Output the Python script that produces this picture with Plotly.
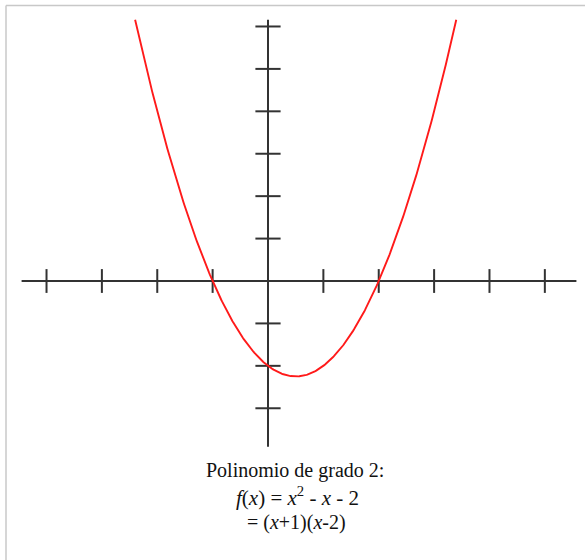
import numpy as np
import plotly.graph_objects as go

# f(x) = x^2 - x - 2, coefficients highest power first
coeffs = [1, -1, -2]
x_ticks = [-4, -3, -2, -1, 1, 2, 3, 4, 5]
y_ticks = [-3, -2, -1, 1, 2, 3, 4, 5, 6]
x_extent = [-4.45, 5.57]   # horizontal axis span
y_extent = [-3.91, 6.16]   # vertical axis span
caption_lines = [
    "Polinomio de grado 2:",
    "<i>f</i>(<i>x</i>) = <i>x</i><sup>2</sup> - <i>x</i> - 2",
    "= (<i>x</i>+1)(<i>x</i>-2)",
]
caption_pos = [(295, 470), (297, 496), (296, 522)]  # centre of each line, px
caption_size = [20, 21, 20]

W, H = 585, 560
ox, oy = 268.0, 281.0        # origin in pixels
ux, uy = 55.37, 42.42        # pixels per unit

xr = [-ox / ux, (W - ox) / ux]
yr = [-(H - oy) / uy, oy / uy]

# curve, clipped where it leaves the top of the vertical axis
c = np.array(coeffs, dtype=float)
disc = np.sqrt(c[1] ** 2 - 4 * c[0] * (c[2] - y_extent[1]))
x_lo = (-c[1] - disc) / (2 * c[0])
x_hi = (-c[1] + disc) / (2 * c[0])
xs = np.linspace(x_lo, x_hi, 400)
ys = np.polyval(c, xs)

axis_col = "#333333"

fig = go.Figure()
fig.add_trace(go.Scatter(x=x_extent, y=[0, 0], mode="lines",
                         line=dict(color=axis_col, width=2), hoverinfo="skip"))
fig.add_trace(go.Scatter(x=[0, 0], y=y_extent, mode="lines",
                         line=dict(color=axis_col, width=2), hoverinfo="skip"))
fig.add_trace(go.Scatter(x=x_ticks, y=[0] * len(x_ticks), mode="markers",
                         marker=dict(symbol="line-ns", size=17,
                                     line=dict(color=axis_col, width=2)),
                         hoverinfo="skip"))
fig.add_trace(go.Scatter(x=[0] * len(y_ticks), y=y_ticks, mode="markers",
                         marker=dict(symbol="line-ew", size=18,
                                     line=dict(color=axis_col, width=2)),
                         hoverinfo="skip"))
fig.add_trace(go.Scatter(x=xs, y=ys, mode="lines",
                         line=dict(color="#ff1a1a", width=1.9), hoverinfo="skip"))

# thin frame along top and left edges
fig.add_shape(type="line", xref="paper", yref="paper",
              x0=6 / W, x1=1, y0=1 - 5.5 / H, y1=1 - 5.5 / H,
              line=dict(color="#c8c8c8", width=1.5))
fig.add_shape(type="line", xref="paper", yref="paper",
              x0=6 / W, x1=6 / W, y0=0, y1=1 - 5.5 / H,
              line=dict(color="#c8c8c8", width=1.5))

for line, (px, py), fs in zip(caption_lines, caption_pos, caption_size):
    fig.add_annotation(text=line, xref="paper", yref="paper",
                       x=px / W, y=1 - py / H, xanchor="center", yanchor="middle",
                       showarrow=False,
                       font=dict(family="Liberation Serif", size=fs, color="#111111"))

fig.update_layout(
    width=W, height=H, margin=dict(l=0, r=0, t=0, b=0),
    paper_bgcolor="white", plot_bgcolor="white", showlegend=False,
    xaxis=dict(range=xr, visible=False, fixedrange=True),
    yaxis=dict(range=yr, visible=False, fixedrange=True),
)

fig.write_html("out.html", config={"displayModeBar": False})
